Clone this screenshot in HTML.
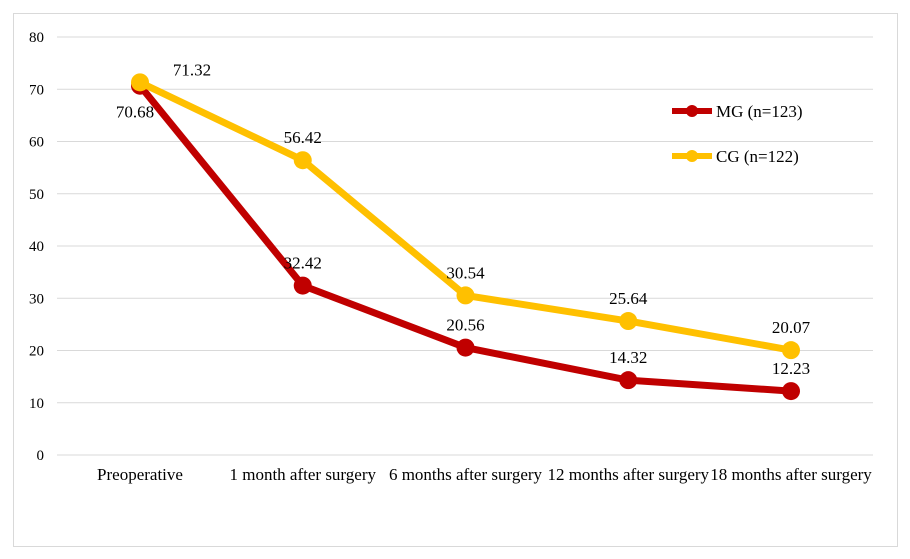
<!DOCTYPE html>
<html><head><meta charset="utf-8"><style>
body{margin:0;background:#fff;}
svg{display:block;font-family:"Liberation Serif",serif;}
</style></head><body>
<svg width="910" height="559">
<rect x="13.5" y="13.5" width="884" height="533" fill="#fff" stroke="#d9d9d9"/>
<g id="grid"></g><g id="yt"></g><g id="xt"></g><g id="series"></g>
<g>
<g>
<line x1="672" y1="111" x2="712" y2="111" stroke="#C00000" stroke-width="6"/>
<circle cx="692" cy="111" r="6" fill="#C00000"/>
<text x="716" y="117" font-size="17" fill="#000">MG (n=123)</text></g>
<g>
<line x1="672" y1="156" x2="712" y2="156" stroke="#FFC000" stroke-width="6"/>
<circle cx="692" cy="156" r="6" fill="#FFC000"/>
<text x="716" y="162" font-size="17" fill="#000">CG (n=122)</text></g>
</g>
</svg>
<script>
const categories=["Preoperative","1 month after surgery","6 months after surgery","12 months after surgery","18 months after surgery"];
const mgValues=[70.68,32.42,20.56,14.32,12.23];
const cgValues=[71.32,56.42,30.54,25.64,20.07];
const yTicks=[0,10,20,30,40,50,60,70,80];
const NS="http://www.w3.org/2000/svg";
const y=v=>455-v*(455-37)/80;
const x=i=>140+i*162.75;
function mk(t,a,p){const e=document.createElementNS(NS,t);for(const k in a)e.setAttribute(k,a[k]);p.appendChild(e);return e;}
const grid=document.getElementById('grid'),yt=document.getElementById('yt'),xt=document.getElementById('xt'),ser=document.getElementById('series');
yTicks.forEach(v=>{
 const l=mk('line',{x1:57,x2:873,y1:y(v),y2:y(v),stroke:'#d9d9d9','stroke-width':1},grid);
 
 
 const t=mk('text',{x:44,y:y(v)+5,'text-anchor':'end','font-size':15,fill:'#000'},yt);t.textContent=v;
 
 
});
categories.forEach((c,i)=>{
 const t=mk('text',{x:x(i),y:480,'text-anchor':'middle','font-size':17,fill:'#000'},xt);t.textContent=c;
 
 
});
function draw(vals,color,name,labelPos){
 const g=mk('g',{},ser);
 
 
 const p=mk('polyline',{points:vals.map((v,i)=>x(i)+','+y(v)).join(' '),fill:'none',stroke:color,'stroke-width':7,'stroke-linejoin':'round'},g);
 
 
 vals.forEach((v,i)=>{
  const c=mk('circle',{cx:x(i),cy:y(v),r:9,fill:color},g);
  
  
 });
 vals.forEach((v,i)=>{
  const o=labelPos(i);
  const t=mk('text',{x:x(i)+o[0],y:y(v)+o[1],'text-anchor':'middle','font-size':17,fill:'#000'},g);t.textContent=v.toFixed(2);
  
  
 });
}
draw(mgValues,'#C00000','mg',i=>i==0?[-5,32]:[0,-17]);
draw(cgValues,'#FFC000','cg',i=>i==0?[52,-7]:[0,-17]);
</script>
</body></html>
